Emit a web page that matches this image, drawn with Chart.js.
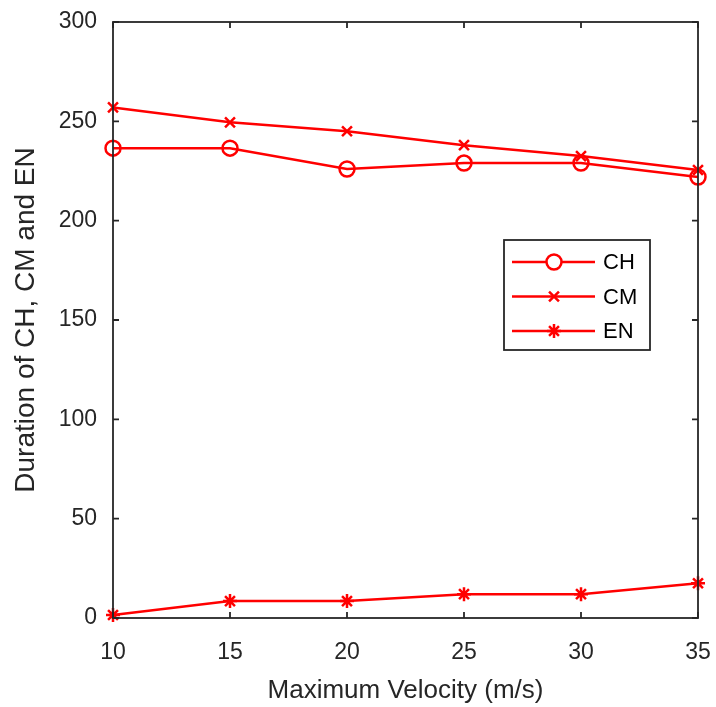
<!DOCTYPE html>
<html>
<head>
<meta charset="utf-8">
<script src="https://cdn.jsdelivr.net/npm/chart.js@4"></script>
<style>
  html, body { margin: 0; padding: 0; background: #fff; }
  #wrap { width: 716px; height: 707px; }
</style>
</head>
<body>
<div id="wrap"><canvas id="chart" width="716" height="707"></canvas></div>
<script>
'use strict';

// Data
const velocity = [10, 15, 20, 25, 30, 35];
const durCH = [236.5, 236.5, 226, 229, 229, 222];
const durCM = [257, 249.5, 245, 238, 232.5, 225.5];
const durEN = [1.5, 8.5, 8.5, 12, 12, 17.5];
const xTicks = [10, 15, 20, 25, 30, 35];
const yTicks = [0, 50, 100, 150, 200, 250, 300];

const RED = '#ff0000';
const AXIS = '#262626';
const FONT = 'Liberation Sans, Arial, sans-serif';

const toPoints = (ys) => velocity.map((v, i) => ({ x: v, y: ys[i] }));

// Kotak, tick ke dalam, dan legenda ala MATLAB
const boxPlugin = {
  id: 'boxPlugin',
  afterDraw(chart) {
    const { ctx, chartArea: a, scales } = chart;
    ctx.save();
    ctx.strokeStyle = AXIS;
    ctx.lineWidth = 1.8;
    ctx.strokeRect(a.left, a.top, a.right - a.left, a.bottom - a.top);
    const len = 6;
    ctx.beginPath();
    xTicks.forEach((t) => {
      const x = scales.x.getPixelForValue(t);
      ctx.moveTo(x, a.bottom); ctx.lineTo(x, a.bottom - len);
      ctx.moveTo(x, a.top); ctx.lineTo(x, a.top + len);
    });
    yTicks.forEach((t) => {
      const y = scales.y.getPixelForValue(t);
      ctx.moveTo(a.left, y); ctx.lineTo(a.left + len, y);
      ctx.moveTo(a.right, y); ctx.lineTo(a.right - len, y);
    });
    ctx.stroke();

    // legenda
    const lx = 504, ly = 240, lw = 146, lh = 110;
    ctx.fillStyle = '#fff';
    ctx.fillRect(lx, ly, lw, lh);
    ctx.strokeStyle = AXIS;
    ctx.lineWidth = 1.8;
    ctx.strokeRect(lx, ly, lw, lh);
    chart.data.datasets.forEach((ds, i) => {
      const y = ly + 22 + i * 34.5;
      ctx.strokeStyle = RED;
      ctx.lineWidth = 2.5;
      ctx.beginPath();
      ctx.moveTo(lx + 8, y); ctx.lineTo(lx + 91, y);
      ctx.stroke();
      Chart.helpers.drawPoint(ctx, {
        pointStyle: ds.pointStyle, radius: ds.pointRadius, borderWidth: 2.5
      }, lx + 50, y);
      ctx.fillStyle = '#000';
      ctx.font = '22px ' + FONT;
      ctx.textBaseline = 'middle';
      ctx.fillText(ds.label, lx + 99, y + 1);
    });
    ctx.restore();
  }
};

const baseDs = {
  borderColor: RED,
  backgroundColor: 'rgba(0,0,0,0)',
  pointBorderColor: RED,
  pointBackgroundColor: 'rgba(0,0,0,0)',
  borderWidth: 2.5,
  pointBorderWidth: 2.5,
  tension: 0,
  clip: false,
};

new Chart(document.getElementById('chart').getContext('2d'), {
  type: 'line',
  data: {
    datasets: [
      { ...baseDs, label: 'CH', data: toPoints(durCH), pointStyle: 'circle', pointRadius: 7.5 },
      { ...baseDs, label: 'CM', data: toPoints(durCM), pointStyle: 'crossRot', pointRadius: 7 },
      { ...baseDs, label: 'EN', data: toPoints(durEN), pointStyle: 'star', pointRadius: 7 },
    ],
  },
  options: {
    responsive: false,
    animation: false,
    layout: { autoPadding: false, padding: { top: 22, right: 18, left: 0, bottom: 0 } },
    plugins: { legend: { display: false }, tooltip: { enabled: false } },
    scales: {
      x: {
        type: 'linear',
        min: 10,
        max: 35,
        afterFit: (s) => { s.height = 89; s.paddingLeft = 0; s.paddingRight = 0; },
        afterBuildTicks: (s) => { s.ticks = xTicks.map((v) => ({ value: v })); },
        grid: { display: false },
        border: { display: false },
        ticks: { color: AXIS, font: { family: FONT, size: 23 }, padding: 13, maxRotation: 0 },
        title: { display: true, text: 'Maximum Velocity (m/s)', color: AXIS, font: { family: FONT, size: 26 }, padding: { top: 4, bottom: 1 } },
      },
      y: {
        min: 0,
        max: 300,
        afterFit: (s) => { s.width = 113; s.paddingTop = 0; s.paddingBottom = 0; },
        afterBuildTicks: (s) => { s.ticks = yTicks.map((v) => ({ value: v })); },
        grid: { display: false },
        border: { display: false },
        ticks: { color: AXIS, font: { family: FONT, size: 23 }, padding: 8 },
        title: { display: true, text: 'Duration of CH, CM and EN', color: AXIS, font: { family: FONT, size: 28 }, padding: { top: 9, bottom: 4 } },
      },
    },
  },
  plugins: [boxPlugin],
});
</script>
</body>
</html>
